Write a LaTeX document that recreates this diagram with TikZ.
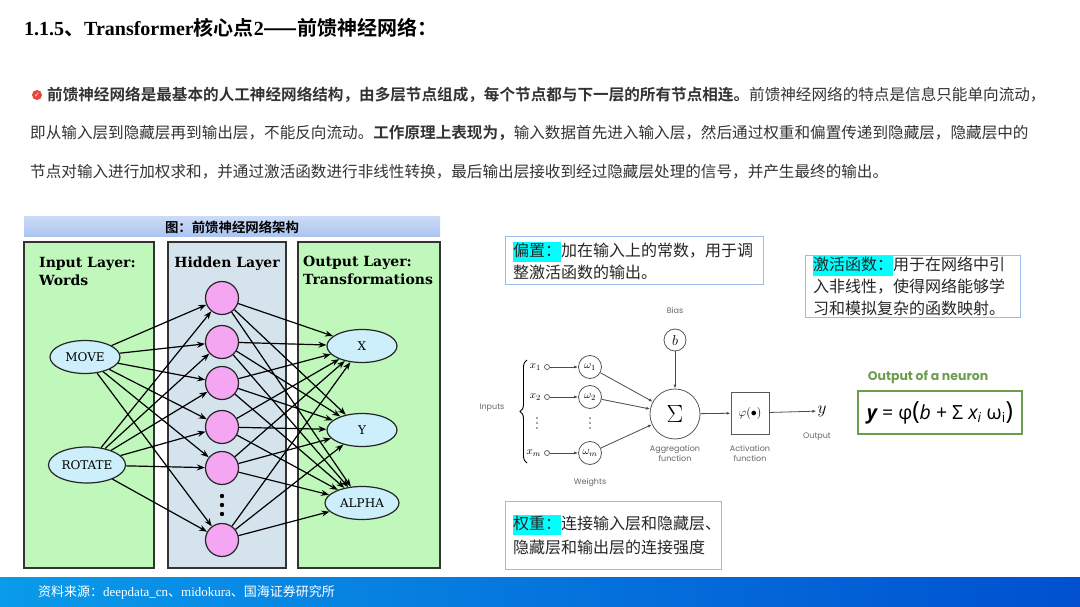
\documentclass[tikz,border=0pt]{standalone}
\usepackage{fontspec}
\usepackage{amsmath}
\setmainfont{Liberation Serif}
\newfontfamily\cjk[BoldFont={Noto Sans CJK SC Bold}]{Noto Sans CJK SC}
\newfontfamily\nnfont{DejaVu Serif}
\newfontfamily\symfont{DejaVu Sans}
\newfontfamily\pfont{Poppins}
\newfontfamily\ofont{Open Sans}
\usetikzlibrary{arrows.meta,positioning,calc,shapes.geometric,decorations.pathreplacing}
\definecolor{ink}{HTML}{333333}
\definecolor{layergreen}{HTML}{C0F8BC}
\definecolor{hiddenblue}{HTML}{D5E3EC}
\definecolor{nodeblue}{HTML}{CDEFFB}
\definecolor{nodepink}{HTML}{F5A6F2}
\definecolor{capblue}{HTML}{A9C3F0}
\definecolor{noteline}{HTML}{9DBBE8}
\definecolor{hlcyan}{HTML}{00FFFF}
\definecolor{leafgreen}{HTML}{6D9E4F}
\definecolor{footleft}{HTML}{0A9BEA}
\definecolor{footright}{HTML}{0050D0}
\definecolor{bulletred}{HTML}{E8473A}
\definecolor{greytext}{HTML}{666666}
\newcommand{\hlt}[1]{{\setlength{\fboxsep}{0pt}\colorbox{hlcyan}{\strut #1}}}

\begin{document}
\begin{tikzpicture}[x=1pt,y=-1pt,
    para/.style={anchor=west,inner sep=0,font=\fontsize{15.6}{18}\cjk\color{ink}},
    note/.style={anchor=west,inner sep=0,font=\fontsize{16}{20}\cjk\color{black!85}},
    notebox/.style={draw=noteline,line width=1pt},
    panel/.style={draw=black!80,line width=1.3pt},
    layerlbl/.style={anchor=north west,inner sep=0,align=left,font=\fontsize{14}{18}\nnfont\bfseries},
    word/.style={ellipse,draw=black!85,line width=1.2pt,fill=nodeblue,inner sep=0,font=\fontsize{12}{14}\nnfont},
    unit/.style={circle,draw=black!85,line width=1.2pt,fill=nodepink,minimum size=33pt,inner sep=0},
    link/.style={-{Stealth[length=8pt,width=6pt]},line width=1.2pt},
    cell/.style={circle,draw=black!65,line width=0.8pt,inner sep=0},
    port/.style={circle,draw=black!65,line width=0.7pt,inner sep=0,minimum size=5pt},
    wire/.style={-{Latex[length=4pt,width=3pt]},draw=black!70,line width=0.8pt},
    tag/.style={inner sep=0,align=center,font=\fontsize{8}{10}\pfont\color{greytext}}
  ]
  \useasboundingbox (0,0) rectangle (1080,607);
  \fill[white] (0,0) rectangle (1080,607);

  % heading and text
  \node[anchor=west,inner sep=0,font=\fontsize{20}{24}\selectfont] (title) at (24,28)
    {\textbf{1.1.5}{\cjk\bfseries 、}\textbf{Transformer}{\cjk\bfseries 核心点}\textbf{2}{\cjk\bfseries ——前馈神经网络：}};
  \node[circle,fill=bulletred,inner sep=0,minimum size=10pt,font=\fontsize{7}{7}\symfont\bfseries\color{white}] (bullet) at (37,95) {✓};
  \node[para] (line1) at (47,95) {\textbf{前馈神经网络是最基本的人工神经网络结构，由多层节点组成，每个节点都与下一层的所有节点相连。}前馈神经网络的特点是信息只能单向流动，};
  \node[para] (line2) at (30,133) {即从输入层到隐藏层再到输出层，不能反向流动。\textbf{工作原理上表现为，}输入数据首先进入输入层，然后通过权重和偏置传递到隐藏层，隐藏层中的};
  \node[para] (line3) at (30,172) {节点对输入进行加权求和，并通过激活函数进行非线性转换，最后输出层接收到经过隐藏层处理的信号，并产生最终的输出。};

  % network figure
  \shade[top color=capblue!60,bottom color=capblue] (24,217) rectangle (440,237);
  \node[font=\fontsize{13.4}{15}\cjk\bfseries] (caption) at (232,227) {图：前馈神经网络架构};
  \draw[panel,fill=layergreen] (24,242) rectangle (154,568);
  \draw[panel,fill=hiddenblue] (168,242) rectangle (286,568);
  \draw[panel,fill=layergreen] (298,242) rectangle (440,568);
  \node[layerlbl] (inlbl) at (39,257) {Input Layer:\\Words};
  \node[layerlbl,anchor=north] (hidlbl) at (227,257) {Hidden Layer};
  \node[layerlbl] (outlbl) at (303,256) {Output Layer:\\Transformations};

  \node[word,minimum width=70pt,minimum height=33pt] (move) at (85,357) {MOVE};
  \node[word,minimum width=77pt,minimum height=36pt] (rotate) at (87,465) {ROTATE};
  \node[word,minimum width=70pt,minimum height=33pt] (ox) at (362,346) {X};
  \node[word,minimum width=70pt,minimum height=33pt] (oy) at (362,430) {Y};
  \node[word,minimum width=74pt,minimum height=33pt] (oalpha) at (362,503) {ALPHA};
  \foreach \n/\y in {1/298,2/342,3/383,4/427,5/468,6/540}
    \node[unit] (h\n) at (222,\y) {};
  \foreach \y in {496,505,514}
    \fill (222,\y) circle (2.2pt);
  \foreach \n in {1,...,6} {
    \draw[link] (move) -- (h\n);
    \draw[link] (rotate) -- (h\n);
    \foreach \o in {ox,oy,oalpha}
      \draw[link] (h\n) -- (\o);
  }

  % single neuron
  \node[tag] (biastag) at (675,310) {Bias};
  \node[cell,minimum size=22pt,font=\fontsize{14}{14}\selectfont] (bias) at (675,340) {$b$};
  \node[cell,minimum size=50pt,font=\fontsize{30}{30}\selectfont] (sum) at (675,414) {$\Sigma$};
  \draw[wire] (bias) -- (sum);
  \foreach \n/\y/\s in {1/367/1,2/397/2,m/453/m} {
    \node[anchor=east,inner sep=0,font=\fontsize{11}{11}\selectfont] (x\n) at (541,\y) {$x_{\s}$};
    \node[port] (p\n) at (547,\y) {};
    \node[cell,minimum size=23pt,font=\fontsize{11}{11}\selectfont] (w\n) at (590,\y) {$\omega_{\s}$};
    \draw[wire] (p\n) -- (w\n);
    \draw[wire] (w\n) -- (sum);
  }
  \foreach \y in {418,423,428} {
    \fill[black!70] (537,\y) circle (0.8pt);
    \fill[black!70] (590,\y) circle (0.8pt);
  }
  \draw[decorate,decoration={brace,amplitude=7pt},line width=0.9pt] (527,463) -- (527,360);
  \node[tag] (inputstag) at (492,408) {Inputs};
  \node[tag] (weightstag) at (590,483) {Weights};
  \node[draw=black!65,line width=0.8pt,minimum width=38pt,minimum height=42pt,inner sep=0,font=\fontsize{12}{12}\selectfont] (act) at (750,413) {$\varphi(\bullet)$};
  \draw[wire] (sum) -- (act);
  \node[inner sep=1pt,font=\fontsize{16}{16}\selectfont] (yout) at (822,411) {$y$};
  \draw[wire] (act) -- (yout);
  \node[tag] (aggtag) at (675,453) {Aggregation\\function};
  \node[tag] (acttag) at (750,453) {Activation\\function};
  \node[tag] (outtag) at (817,437) {Output};

  \node[font=\fontsize{12.5}{14}\pfont\bfseries\color{leafgreen}] (neurontitle) at (928,377) {Output of a neuron};
  \node[draw=leafgreen,line width=1.5pt,minimum width=164pt,minimum height=43pt,inner sep=0,font=\fontsize{19.5}{22}\ofont] (formula) at (940,412.5)
    {{\bfseries\itshape y} = φ{\fontsize{25}{25}\selectfont(}{\itshape b} + Σ {\itshape x}\textsubscript{\itshape i} ω\textsubscript{i}{\fontsize{25}{25}\selectfont)}};

  % notes
  \draw[notebox] (505,237) rectangle (763,284);
  \node[note] (biasnote1) at (513,252) {\hlt{偏置：}加在输入上的常数，用于调};
  \node[note] (biasnote2) at (513,272) {整激活函数的输出。};
  \draw[notebox] (805,255) rectangle (1020,317);
  \node[note] (actnote1) at (813,266) {\hlt{激活函数：}用于在网络中引};
  \node[note] (actnote2) at (813,287) {入非线性，使得网络能够学};
  \node[note] (actnote3) at (813,308) {习和模拟复杂的函数映射。};
  \draw[notebox] (505,501) rectangle (721,569);
  \node[note] (wnote1) at (513,525) {\hlt{权重：}连接输入层和隐藏层、};
  \node[note] (wnote2) at (513,547) {隐藏层和输出层的连接强度};

  % footer
  \shade[left color=footleft,right color=footright] (0,577) rectangle (1080,607);
  \node[anchor=west,inner sep=0,font=\fontsize{13}{15}\selectfont\color{white}] (source) at (38,592)
    {{\cjk 资料来源：}deepdata\_cn{\cjk 、}midokura{\cjk 、国海证券研究所}};
\end{tikzpicture}
\end{document}
